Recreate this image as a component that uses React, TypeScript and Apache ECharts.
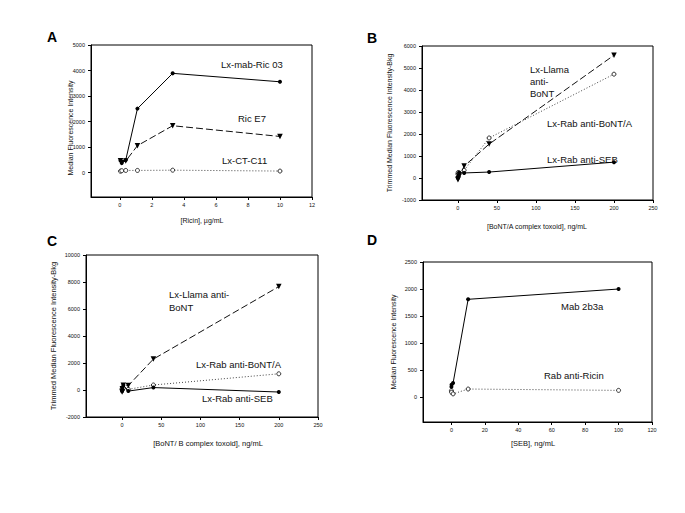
import React, { useEffect, useRef } from "react";
import * as echarts from "echarts";

const FONT = "'Liberation Sans', Arial, Helvetica, sans-serif";

// Panel A – Ricin
const ricinX = [0.041, 0.12, 0.37, 1.1, 3.3, 10];
const ricMab03 = [480, 380, 500, 2510, 3890, 3560];
const ricE7 = [470, 390, 460, 1060, 1840, 1420];
const ricCT = [60, 80, 90, 90, 100, 65];
const aXTicks = [0, 2, 4, 6, 8, 10, 12];
const aYTicks = [0, 1000, 2000, 3000, 4000, 5000];

// Panel B – BoNT/A
const bontAX = [0.064, 0.32, 1.6, 8, 40, 200];
const bontALlama = [-80, -30, 80, 540, 1540, 5580];
const bontARabA = [180, 250, 210, 350, 1820, 4720];
const bontARabSEB = [0, 60, 250, 230, 270, 720];
const bXTicks = [0, 50, 100, 150, 200, 250];
const bYTicks = [-1000, 0, 1000, 2000, 3000, 4000, 5000, 6000];

// Panel C – BoNT/B
const bontBX = [0.064, 0.32, 1.6, 8, 40, 200];
const bontBLlama = [-150, 100, 350, 330, 2290, 7660];
const bontBRabA = [100, 0, 150, 50, 370, 1200];
const bontBRabSEB = [-100, 50, 350, -80, 180, -150];
const cXTicks = [0, 50, 100, 150, 200, 250];
const cYTicks = [-2000, 0, 2000, 4000, 6000, 8000, 10000];

// Panel D – SEB
const sebX = [0.01, 0.1, 1, 10, 100];
const sebMab = [190, 230, 260, 1810, 2000];
const sebRicin = [120, 90, 60, 150, 125];
const dXTicks = [0, 20, 40, 60, 80, 100, 120];
const dYTicks = [0, 500, 1000, 1500, 2000, 2500];

const axisCommon = (ticks: number[], isY: boolean) => ({
  type: "value",
  axisLine: { show: true, onZero: false, lineStyle: { color: "#000", width: 1 } },
  axisTick: { show: true, inside: false, length: 3, customValues: ticks, lineStyle: { color: "#000", width: 1 } },
  axisLabel: {
    customValues: ticks,
    formatter: (v: number) => String(v),
    fontSize: 5.5,
    color: "#111",
    fontFamily: FONT,
    margin: isY ? 6 : 5,
  },
  splitLine: { show: false },
});

type Kind = "solid" | "dash" | "dot";
const mkSeries = (name: string, idx: number, xs: number[], ys: number[], kind: Kind) => {
  const base: any = {
    name,
    type: "line",
    xAxisIndex: idx,
    yAxisIndex: idx,
    data: xs.map((x, i) => [x, ys[i]]),
    silent: true,
    z: kind === "solid" ? 5 : kind === "dash" ? 4 : 3,
  };
  if (kind === "solid") {
    base.lineStyle = { color: "#000", width: 1, type: "solid" };
    base.symbol = "circle";
    base.symbolSize = 4;
    base.itemStyle = { color: "#000" };
  } else if (kind === "dash") {
    base.lineStyle = { color: "#111", width: 1, type: [7, 3] };
    base.symbol = "triangle";
    base.symbolRotate = 180;
    base.symbolSize = 5.5;
    base.itemStyle = { color: "#000" };
  } else {
    base.lineStyle = { color: "#444", width: 1, type: [1, 2] };
    base.symbol = "circle";
    base.symbolSize = 4;
    base.itemStyle = { color: "#fff", borderColor: "#000", borderWidth: 0.8 };
  }
  return base;
};

const txt = (text: string, x: number, y: number, size: number, opts: any = {}) => ({
  type: "text",
  x,
  y,
  rotation: opts.rotation || 0,
  style: {
    text,
    fill: opts.fill || "#111",
    font: `${opts.bold ? "bold " : ""}${size}px ${FONT}`,
    align: opts.align || "left",
    verticalAlign: "middle",
  },
  silent: true,
});

export default function App() {
  const ref = useRef<HTMLDivElement>(null);
  useEffect(() => {
    if (!ref.current) return;
    const chart = echarts.init(ref.current, null, { renderer: "svg" });
    const gridStyle = { show: true, borderColor: "#000", borderWidth: 1, backgroundColor: "transparent" };
    const option: any = {
      animation: false,
      grid: [
        { left: 91, top: 45, width: 221, height: 152, ...gridStyle },
        { left: 422, top: 46, width: 231, height: 154, ...gridStyle },
        { left: 86, top: 255, width: 232, height: 162, ...gridStyle },
        { left: 423, top: 262, width: 229, height: 160, ...gridStyle },
      ],
      xAxis: [
        { ...axisCommon(aXTicks, false), gridIndex: 0, min: -1.8, max: 12 },
        { ...axisCommon(bXTicks, false), gridIndex: 1, min: -46, max: 250 },
        { ...axisCommon(cXTicks, false), gridIndex: 2, min: -46, max: 250 },
        { ...axisCommon(dXTicks, false), gridIndex: 3, min: -17, max: 120 },
      ],
      yAxis: [
        { ...axisCommon(aYTicks, true), gridIndex: 0, min: -950, max: 5000 },
        { ...axisCommon(bYTicks, true), gridIndex: 1, min: -1000, max: 6000 },
        { ...axisCommon(cYTicks, true), gridIndex: 2, min: -2000, max: 10000 },
        { ...axisCommon(dYTicks, true), gridIndex: 3, min: -460, max: 2500 },
      ],
      series: [
        mkSeries("Lx-CT-C11", 0, ricinX, ricCT, "dot"),
        mkSeries("Ric E7", 0, ricinX, ricE7, "dash"),
        mkSeries("Lx-mab-Ric 03", 0, ricinX, ricMab03, "solid"),
        mkSeries("Lx-Rab anti-BoNT/A", 1, bontAX, bontARabA, "dot"),
        mkSeries("Lx-Llama anti-BoNT", 1, bontAX, bontALlama, "dash"),
        mkSeries("Lx-Rab anti-SEB", 1, bontAX, bontARabSEB, "solid"),
        mkSeries("Lx-Rab anti-BoNT/A", 2, bontBX, bontBRabA, "dot"),
        mkSeries("Lx-Llama anti-BoNT", 2, bontBX, bontBLlama, "dash"),
        mkSeries("Lx-Rab anti-SEB", 2, bontBX, bontBRabSEB, "solid"),
        mkSeries("Rab anti-Ricin", 3, sebX, sebRicin, "dot"),
        mkSeries("Mab 2b3a", 3, sebX, sebMab, "solid"),
      ],
      graphic: [
        // panel letters
        txt("A", 47, 37, 14, { bold: true, fill: "#000" }),
        txt("B", 367, 38, 14, { bold: true, fill: "#000" }),
        txt("C", 47, 241, 14, { bold: true, fill: "#000" }),
        txt("D", 367, 240, 14, { bold: true, fill: "#000" }),
        // axis titles
        txt("Median Fluorescence Intensity", 70, 128, 7, { rotation: Math.PI / 2, align: "center" }),
        txt("[Ricin], µg/mL", 202, 220, 7, { align: "center" }),
        txt("Trimmed Median Fluorescence Intensity-Bkg", 389, 123, 7, { rotation: Math.PI / 2, align: "center" }),
        txt("[BoNT/A complex toxoid], ng/mL", 537, 226, 7, { align: "center" }),
        txt("Trimmed Median Fluorescence Intensity-Bkg", 53, 336, 7.5, { rotation: Math.PI / 2, align: "center" }),
        txt("[BoNT/ B complex toxoid], ng/mL", 208, 443, 7.5, { align: "center" }),
        txt("Median Fluorescence Intensity", 393, 342, 7, { rotation: Math.PI / 2, align: "center" }),
        txt("[SEB], ng/mL", 533, 443, 7.5, { align: "center" }),
        // annotations A
        txt("Lx-mab-Ric 03", 221, 64, 9.5),
        txt("Ric E7", 238, 118, 9.5),
        txt("Lx-CT-C11", 222, 160, 9.5),
        // annotations B
        txt("Lx-Llama", 530, 69, 9.5),
        txt("anti-", 530, 81, 9.5),
        txt("BoNT", 530, 93, 9.5),
        txt("Lx-Rab anti-BoNT/A", 547, 123, 9.5),
        txt("Lx-Rab anti-SEB", 547, 159, 9.5),
        // annotations C
        txt("Lx-Llama anti-", 169, 294, 9.5),
        txt("BoNT", 169, 307, 9.5),
        txt("Lx-Rab anti-BoNT/A", 196, 364, 9.5),
        txt("Lx-Rab anti-SEB", 202, 398, 9.5),
        // annotations D
        txt("Mab 2b3a", 561, 306, 9.5),
        txt("Rab anti-Ricin", 544, 375, 9.5),
      ],
    };
    chart.setOption(option);
    return () => chart.dispose();
  }, []);
  return (
    <div
      ref={ref}
      style={{ position: "fixed", left: 0, top: 0, width: 685, height: 513, background: "#fff" }}
    />
  );
}
